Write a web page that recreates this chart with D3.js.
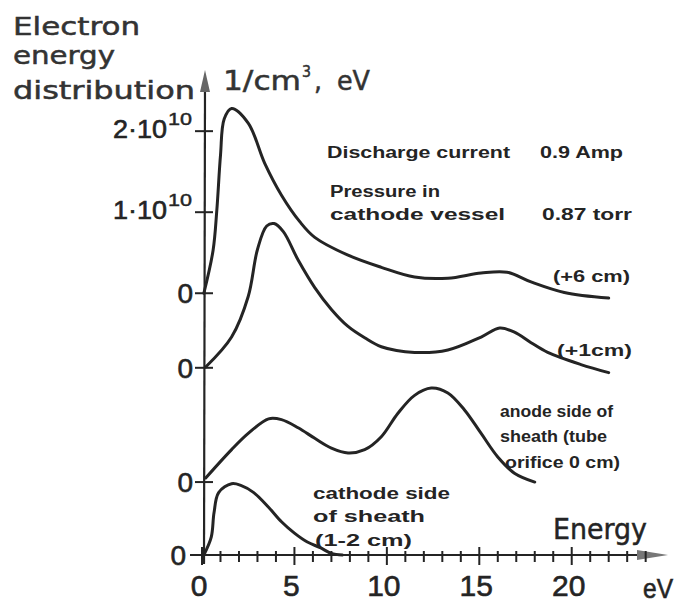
<!DOCTYPE html>
<html>
<head>
<meta charset="utf-8">
<script src="https://cdn.jsdelivr.net/npm/d3@7"></script>
<style>
  body { margin: 0; background: #fff; }
  svg { display: block; }
</style>
</head>
<body>
<div id="chart"></div>
<script>
// energy axis (eV)
var xMajorTicks = [0, 5, 10, 15, 20];
var xMinorTicks = d3.range(1, 25);

// y tick labels (1/cm^3 eV, in units of 1e10) for the top curve
var yTickValues = [1, 2];
var yTickLabels = ["1·10", "2·10"];

// vertical offset of each curve (same units), bottom to top
var curveNames = ["cathode", "anode", "plus1", "plus6"];
var curveOffsets = [0, 0.9, 2.31, 3.23];

// (+6 cm)
var evPlus6 = [0.1, 0.6, 0.8, 1.0, 1.2, 1.6, 2.5, 3.4, 4.3, 5.3, 6.1, 7.9, 9.7, 11.5, 13.3, 15.1, 16.5, 17.8, 19.6, 22.0];
var valPlus6 = [0, 0.53, 1.02, 1.7, 2.15, 2.28, 2.10, 1.60, 1.21, 0.88, 0.69, 0.47, 0.32, 0.20, 0.185, 0.25, 0.26, 0.14, 0.01, -0.06];

// (+1 cm)
var evPlus1 = [0.2, 1.6, 2.5, 3.0, 3.5, 3.9, 4.4, 5.2, 6.1, 7.0, 7.9, 8.8, 9.7, 11.5, 13.3, 15.1, 16.1, 16.9, 17.8, 18.7, 20.5, 22.0];
var valPlus1 = [0.01, 0.38, 0.88, 1.46, 1.75, 1.78, 1.68, 1.33, 0.99, 0.72, 0.51, 0.37, 0.26, 0.19, 0.22, 0.38, 0.49, 0.44, 0.31, 0.19, 0.04, -0.06];

// anode side of sheath
var evAnode = [0.2, 1.6, 2.5, 3.6, 4.3, 5.2, 6.1, 7.0, 7.9, 8.8, 9.7, 10.6, 11.5, 12.4, 13.3, 14.2, 15.1, 16.0, 16.9, 18.0];
var valAnode = [0.05, 0.40, 0.60, 0.78, 0.77, 0.67, 0.54, 0.42, 0.36, 0.40, 0.56, 0.85, 1.07, 1.16, 1.10, 0.89, 0.60, 0.31, 0.11, 0.0];

// cathode side of sheath
var evCathode = [0.1, 0.5, 0.65, 0.9, 1.6, 2.1, 2.8, 3.6, 4.3, 5.0, 5.7, 6.4, 7.0, 7.6];
var valCathode = [0, 0.22, 0.52, 0.77, 0.88, 0.86, 0.77, 0.59, 0.41, 0.27, 0.16, 0.09, 0.02, 0];

var svgWidth = 677;
var svgHeight = 606;
var ink = "#242424";

var svg = d3.select("#chart")
  .append("svg")
  .attr("width", svgWidth)
  .attr("height", svgHeight);

// scales
var xScale = d3.scaleLinear().domain([0, 25.1]).range([202, 666]);
var yScale = d3.scaleLinear().domain([0, 5.96]).range([555, 72]);

function addText(x, y, str, size, width, opts) {
  opts = opts || {};
  var t = svg.append("text")
    .attr("x", x)
    .attr("y", y)
    .attr("font-family", opts.family || "'DejaVu Sans', sans-serif")
    .attr("font-size", size)
    .attr("font-weight", opts.weight || "normal")
    .attr("fill", opts.fill || ink)
    .attr("text-anchor", opts.anchor || "start")
    .text(str);
  if (opts.stroke) {
    t.attr("stroke", opts.fill || ink).attr("stroke-width", opts.stroke);
  }
  if (width) {
    t.attr("textLength", width).attr("lengthAdjust", "spacingAndGlyphs");
  }
  return t;
}

// axes lines
svg.append("line")
  .attr("x1", 204).attr("y1", 564)
  .attr("x2", 205).attr("y2", 88)
  .attr("stroke", ink).attr("stroke-width", 2.2);

svg.append("polygon")
  .attr("points", "205,70 200,92 210,92")
  .attr("fill", "#666");

svg.append("line")
  .attr("x1", 190).attr("y1", yScale(0))
  .attr("x2", 640).attr("y2", yScale(0))
  .attr("stroke", ink).attr("stroke-width", 2);

svg.append("polygon")
  .attr("points", "637,550 668,555 637,560")
  .attr("fill", "#777");

// x ticks
svg.selectAll(".minor")
  .data(xMinorTicks.filter(d => xMajorTicks.indexOf(d) < 0))
  .enter()
  .append("line")
  .attr("x1", d => xScale(d)).attr("x2", d => xScale(d))
  .attr("y1", yScale(0) - 4).attr("y2", yScale(0) + 7)
  .attr("stroke", ink).attr("stroke-width", 2);

svg.selectAll(".major")
  .data(xMajorTicks)
  .enter()
  .append("line")
  .attr("x1", d => xScale(d)).attr("x2", d => xScale(d))
  .attr("y1", yScale(0) - 8).attr("y2", yScale(0) + 10)
  .attr("stroke", ink).attr("stroke-width", 2);

var narrow = "'Liberation Sans Narrow', 'Liberation Sans', sans-serif";

svg.selectAll(".xlab")
  .data(xMajorTicks)
  .enter()
  .append("text")
  .attr("x", d => xScale(d) - 3)
  .attr("y", 596)
  .attr("text-anchor", "middle")
  .attr("font-family", narrow)
  .attr("font-size", 30)
  .attr("fill", ink)
  .attr("stroke", ink)
  .attr("stroke-width", 0.6)
  .text(d => d);

addText(643, 598, "eV", 28, 30, { family: narrow, stroke: 0.6 });
addText(553, 539, "Energy", 29, 94, { stroke: 0.5 });

// y ticks: zero line of each curve and the 1e10 / 2e10 marks
var yMarks = curveOffsets.concat(yTickValues.map(v => v + curveOffsets[3]));
svg.selectAll(".ytick")
  .data(yMarks)
  .enter()
  .append("line")
  .attr("x1", 195).attr("x2", 213)
  .attr("y1", d => yScale(d)).attr("y2", d => yScale(d))
  .attr("stroke", ink).attr("stroke-width", 2);

svg.selectAll(".zero")
  .data(curveOffsets)
  .enter()
  .append("text")
  .attr("x", (d, i) => i === 0 ? 186 : 193)
  .attr("y", d => yScale(d) + 10)
  .attr("text-anchor", "end")
  .attr("font-family", narrow)
  .attr("font-size", 28)
  .attr("fill", ink)
  .attr("stroke", ink)
  .attr("stroke-width", 0.6)
  .text("0");

yTickValues.forEach(function(v, i) {
  var yy = yScale(v + curveOffsets[3]);
  addText(113, yy + 7, yTickLabels[i], 25, 54, { family: narrow, stroke: 0.6 });
  addText(168, yy - 6, "10", 16, 24, { family: narrow, stroke: 0.4 });
});

// title
var titleStyle = { fill: "#333", stroke: 0.5 };
addText(13, 35, "Electron", 24, 127, titleStyle);
addText(13, 64, "energy", 24, 102, titleStyle);
addText(13, 99, "distribution", 24, 182, titleStyle);
addText(223, 90, "1/cm", 26, 78, titleStyle);
addText(302, 77, "3", 15, 9, titleStyle);
addText(314, 90, ",", 26, 8, titleStyle);
addText(337, 90, "eV", 26, 33, titleStyle);

// curves
var curves = [
  { ev: evCathode, val: valCathode },
  { ev: evAnode, val: valAnode },
  { ev: evPlus1, val: valPlus1 },
  { ev: evPlus6, val: valPlus6 }
];

var line = d3.line()
  .x(d => xScale(d[0]))
  .y(d => yScale(d[1]))
  .curve(d3.curveCatmullRom.alpha(0.5));

curves.forEach(function(c, i) {
  var pts = c.ev.map((e, j) => [e, c.val[j] + curveOffsets[i]]);
  svg.append("path")
    .attr("class", "curve " + curveNames[i])
    .attr("d", line(pts))
    .attr("fill", "none")
    .attr("stroke", ink)
    .attr("stroke-width", 3)
    .attr("stroke-linejoin", "round")
    .attr("stroke-linecap", "round");
});

// annotations
var bold = { family: "'Liberation Sans', sans-serif", weight: "bold" };
addText(327, 158, "Discharge current", 16, 183, bold);
addText(540, 158, "0.9 Amp", 16, 83, bold);
addText(330, 197, "Pressure in", 16, 110, bold);
addText(330, 220, "cathode vessel", 16, 175, bold);
addText(542, 220, "0.87 torr", 16, 90, bold);

addText(553, 282, "(+6 cm)", 16, 77, bold);
addText(557, 356, "(+1cm)", 16, 75, bold);

addText(500, 417, "anode side of", 16, 113, bold);
addText(500, 442, "sheath (tube", 16, 107, bold);
addText(505, 468, "orifice 0 cm)", 16, 115, bold);

addText(313, 499, "cathode side", 16, 137, bold);
addText(313, 522, "of sheath", 16, 112, bold);
addText(315, 546, "(1-2 cm)", 16, 97, bold);
</script>
</body>
</html>
